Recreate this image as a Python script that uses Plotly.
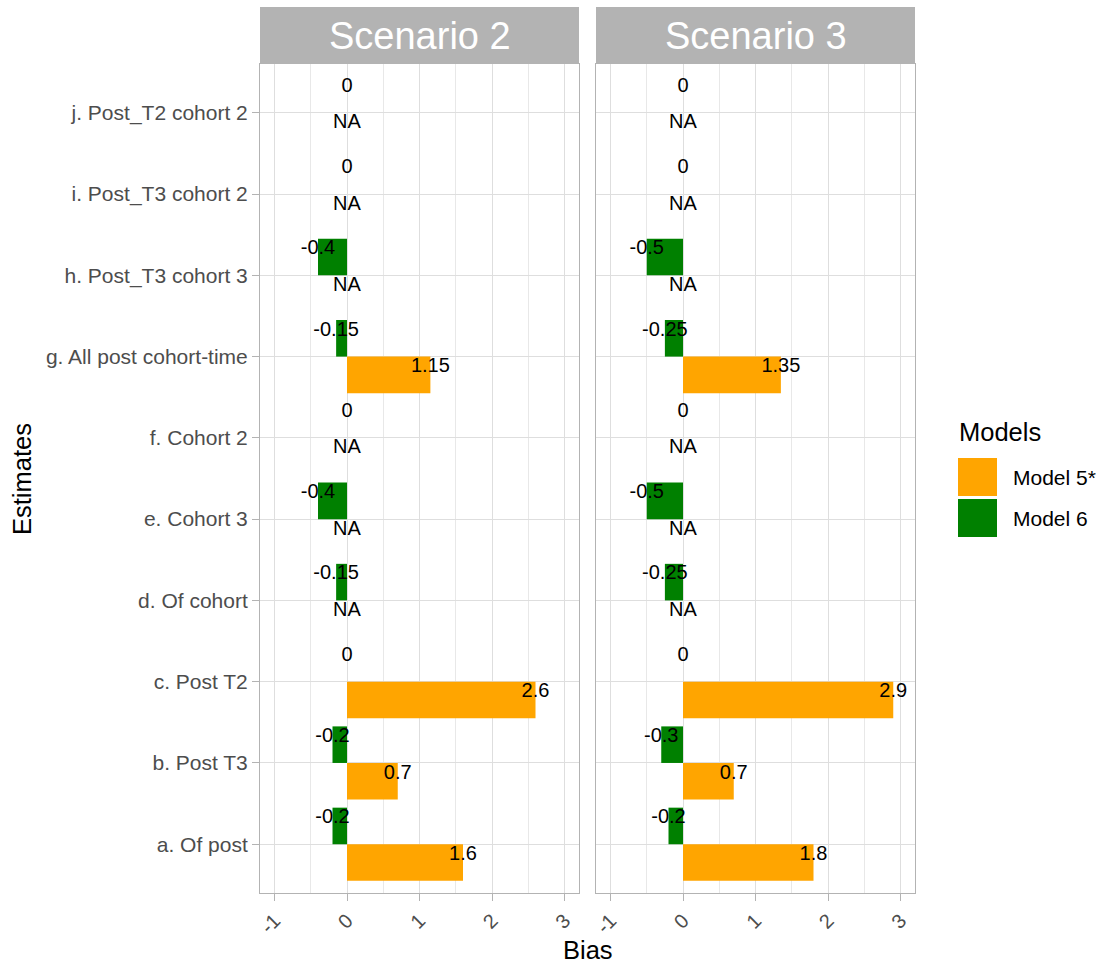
import plotly.graph_objects as go

categories = ["a. Of post", "b. Post T3", "c. Post T2", "d. Of cohort", "e. Cohort 3",
              "f. Cohort 2", "g. All post cohort-time", "h. Post_T3 cohort 3",
              "i. Post_T3 cohort 2", "j. Post_T2 cohort 2"]
scenarios = ["Scenario 2", "Scenario 3"]
model5_s2 = [1.6, 0.7, 2.6, None, None, None, 1.15, None, None, None]
model6_s2 = [-0.2, -0.2, 0, -0.15, -0.4, 0, -0.15, -0.4, 0, 0]
model5_s3 = [1.8, 0.7, 2.9, None, None, None, 1.35, None, None, None]
model6_s3 = [-0.2, -0.3, 0, -0.25, -0.5, 0, -0.25, -0.5, 0, 0]
models = ["Model 5*", "Model 6"]
colors = ["#FFA500", "#008000"]
x_ticks = [-1, 0, 1, 2, 3]
x_minor = [-0.5, 0.5, 1.5, 2.5]

W, H = 1097, 964
L, R, T, B = 260, 915, 7, 893          # page pixels of the panel block
PANEL_TOP = 64
P1 = (260, 579)
P2 = (596, 915)
PW = R - L

def px(x):
    return (x - L) / PW

def pyp(y):
    return (B - y) / (B - T)

FONT = "Liberation Sans, Arial, sans-serif"
GREY30 = "#4D4D4D"
GREY70 = "#B3B3B3"
GRID = "#DEDEDE"

data = {
    "Scenario 2": [model5_s2, model6_s2],
    "Scenario 3": [model5_s3, model6_s3],
}

fig = go.Figure()
BW = 0.45
dodge = [-0.225, 0.225]
TXT_OFF = 0.095

for si, sc in enumerate(scenarios):
    xa = "x" if si == 0 else "x2"
    ya = "y" if si == 0 else "y2"
    for mi, m in enumerate(models):
        vals = data[sc][mi]
        ys = [i + dodge[mi] for i in range(len(categories))]
        fig.add_trace(go.Bar(
            x=vals, y=ys, orientation="h", width=BW,
            marker=dict(color=colors[mi], line=dict(width=0)),
            name=m, showlegend=False, xaxis=xa, yaxis=ya, hoverinfo="skip"))
    for mi, m in enumerate(models):
        vals = data[sc][mi]
        xs = [0 if v is None else v for v in vals]
        ys = [i + dodge[mi] + TXT_OFF for i in range(len(categories))]
        txt = ["NA" if v is None else f"{v:g}" for v in vals]
        fig.add_trace(go.Scatter(
            x=xs, y=ys, mode="text", text=txt, textposition="middle center",
            textfont=dict(family=FONT, size=20, color="black"),
            showlegend=False, xaxis=xa, yaxis=ya, hoverinfo="skip"))

xcommon = dict(
    range=[-1.2, 3.2], tickmode="array", tickvals=x_ticks,
    ticktext=[str(t) for t in x_ticks], ticks="outside", ticklen=7,
    tickcolor=GREY70, tickwidth=1, tickangle=-45,
    tickfont=dict(family=FONT, size=20, color=GREY30),
    showgrid=True, gridcolor=GRID, gridwidth=1,
    minor=dict(tickmode="array", tickvals=x_minor, showgrid=True,
               gridcolor="#E8E8E8", gridwidth=1, ticks=""),
    showline=True, mirror=True, linecolor=GREY70, linewidth=1,
    zeroline=False, fixedrange=True)
ycommon = dict(
    range=[-0.6, len(categories) - 0.4], domain=[0, pyp(PANEL_TOP)],
    showgrid=True, gridcolor=GRID, gridwidth=1,
    showline=True, mirror=True, linecolor=GREY70, linewidth=1,
    zeroline=False, fixedrange=True)

fig.update_layout(
    width=W, height=H,
    margin=dict(l=L, r=W - R, t=T, b=H - B, pad=0),
    paper_bgcolor="white", plot_bgcolor="white",
    barmode="overlay", showlegend=False,
    font=dict(family=FONT),
    xaxis=dict(domain=[px(P1[0]), px(P1[1])], anchor="y", **xcommon),
    xaxis2=dict(domain=[px(P2[0]), px(P2[1])], anchor="y2", **xcommon),
    yaxis=dict(anchor="x", tickmode="array", tickvals=list(range(len(categories))),
               ticktext=categories, ticks="outside", ticklen=7, tickcolor=GREY70,
               tickwidth=1, tickfont=dict(family=FONT, size=21, color=GREY30),
               **ycommon),
    yaxis2=dict(anchor="x2", matches="y", showticklabels=False, ticks="",
                tickmode="array", tickvals=list(range(len(categories))), **ycommon),
)

shapes = []
annotations = []
for (x0, x1), sc in zip([P1, P2], scenarios):
    shapes.append(dict(type="rect", xref="paper", yref="paper",
                       x0=px(x0), x1=px(x1), y0=pyp(PANEL_TOP), y1=pyp(T),
                       fillcolor=GREY70, line=dict(width=0), layer="below"))
    annotations.append(dict(xref="paper", yref="paper", x=px((x0 + x1) / 2), y=pyp(36),
                            text=sc, showarrow=False, xanchor="center", yanchor="middle",
                            font=dict(family=FONT, size=38, color="white")))

# axis titles
annotations.append(dict(xref="paper", yref="paper", x=px(588), y=pyp(950), text="Bias",
                        showarrow=False, xanchor="center", yanchor="middle",
                        font=dict(family=FONT, size=25.5, color="black")))
annotations.append(dict(xref="paper", yref="paper", x=px(22), y=pyp(479), text="Estimates",
                        showarrow=False, xanchor="center", yanchor="middle", textangle=-90,
                        font=dict(family=FONT, size=25.5, color="black")))

# legend (drawn manually)
annotations.append(dict(xref="paper", yref="paper", x=px(957), y=pyp(432), text="Models",
                        showarrow=False, xanchor="left", yanchor="middle",
                        font=dict(family=FONT, size=25.5, color="black")))
key_tops = [458, 499]
for m, c, kt in zip(models, colors, key_tops):
    shapes.append(dict(type="rect", xref="paper", yref="paper",
                       x0=px(958), x1=px(997), y0=pyp(kt + 38), y1=pyp(kt),
                       fillcolor=c, line=dict(width=0)))
    annotations.append(dict(xref="paper", yref="paper", x=px(1011), y=pyp(kt + 19), text=m,
                            showarrow=False, xanchor="left", yanchor="middle",
                            font=dict(family=FONT, size=21, color="black")))

fig.update_layout(shapes=shapes, annotations=annotations)
fig.write_html("out.html",
               config={"displayModeBar": False, "staticPlot": True},
               post_script="document.body.style.margin='0px';"
                           "document.documentElement.style.overflow='hidden';")
